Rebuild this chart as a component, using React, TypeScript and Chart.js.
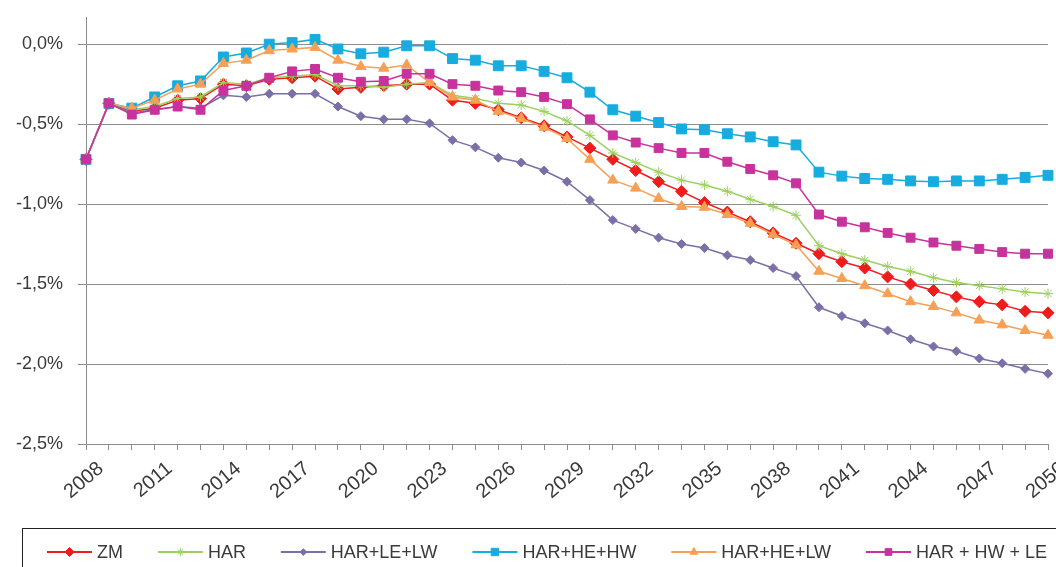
import React, { useEffect, useRef } from 'react';
import { Chart, registerables } from 'chart.js';
import { drawPoint } from 'chart.js/helpers';

Chart.register(...registerables);

const years = [
  '2008', '2009', '2010', '2011', '2012', '2013', '2014', '2015', '2016', '2017',
  '2018', '2019', '2020', '2021', '2022', '2023', '2024', '2025', '2026', '2027',
  '2028', '2029', '2030', '2031', '2032', '2033', '2034', '2035', '2036', '2037',
  '2038', '2039', '2040', '2041', '2042', '2043', '2044', '2045', '2046', '2047',
  '2048', '2049', '2050',
];

const zm = [
  -0.72, -0.37, -0.42, -0.40, -0.35, -0.34, -0.25, -0.26, -0.22, -0.21,
  -0.20, -0.28, -0.27, -0.26, -0.25, -0.25, -0.35, -0.37, -0.41, -0.46,
  -0.51, -0.58, -0.65, -0.72, -0.79, -0.86, -0.92, -0.99, -1.05, -1.11,
  -1.18, -1.245, -1.31, -1.36, -1.40, -1.455, -1.50, -1.54, -1.58, -1.61,
  -1.63, -1.67, -1.68,
];

const har = [
  -0.72, -0.37, -0.41, -0.39, -0.34, -0.33, -0.24, -0.25, -0.21, -0.20,
  -0.19, -0.26, -0.26, -0.27, -0.25, -0.24, -0.32, -0.34, -0.37, -0.38,
  -0.42, -0.48, -0.57, -0.68, -0.74, -0.80, -0.85, -0.88, -0.92, -0.97,
  -1.015, -1.07, -1.26, -1.31, -1.35, -1.39, -1.42, -1.46, -1.49, -1.51,
  -1.53, -1.55, -1.56,
];

const harLeLw = [
  -0.72, -0.37, -0.43, -0.41, -0.39, -0.40, -0.32, -0.33, -0.31, -0.31,
  -0.31, -0.39, -0.45, -0.47, -0.47, -0.495, -0.60, -0.645, -0.71, -0.74,
  -0.79, -0.86, -0.975, -1.10, -1.155, -1.21, -1.25, -1.275, -1.32, -1.35,
  -1.40, -1.45, -1.645, -1.70, -1.745, -1.79, -1.845, -1.89, -1.92, -1.965,
  -1.995, -2.03, -2.06,
];

const harHeHw = [
  -0.72, -0.37, -0.40, -0.33, -0.26, -0.23, -0.08, -0.055, 0.0, 0.01,
  0.03, -0.03, -0.06, -0.05, -0.01, -0.01, -0.09, -0.10, -0.135, -0.135,
  -0.17, -0.21, -0.30, -0.41, -0.45, -0.49, -0.53, -0.535, -0.56, -0.58,
  -0.61, -0.63, -0.80, -0.825, -0.84, -0.845, -0.855, -0.86, -0.855, -0.855,
  -0.845, -0.833, -0.82,
];

const harHeLw = [
  -0.72, -0.37, -0.40, -0.35, -0.28, -0.25, -0.12, -0.10, -0.04, -0.03,
  -0.02, -0.10, -0.14, -0.15, -0.13, -0.24, -0.33, -0.35, -0.42, -0.465,
  -0.52, -0.59, -0.72, -0.85, -0.90, -0.965, -1.015, -1.02, -1.065, -1.12,
  -1.19, -1.255, -1.42, -1.465, -1.51, -1.56, -1.61, -1.64, -1.68, -1.725,
  -1.755, -1.79, -1.82,
];

const harHwLe = [
  -0.72, -0.37, -0.44, -0.41, -0.39, -0.41, -0.29, -0.26, -0.21, -0.17,
  -0.155, -0.21, -0.235, -0.23, -0.185, -0.185, -0.25, -0.26, -0.29, -0.30,
  -0.33, -0.375, -0.47, -0.57, -0.615, -0.65, -0.68, -0.68, -0.735, -0.78,
  -0.82, -0.87, -1.065, -1.11, -1.145, -1.18, -1.21, -1.24, -1.26, -1.28,
  -1.30, -1.31, -1.31,
];

const seriesLabels = ['ZM', 'HAR', 'HAR+LE+LW', 'HAR+HE+HW', 'HAR+HE+LW', 'HAR + HW + LE'];

const FONT_FAMILY = '"Liberation Sans", Arial, sans-serif';
const TEXT_COLOR = '#3a3a3a';
const GRID_COLOR = '#8c8c8c';

type Style = { color: string; point: string; radius: number; width: number };
const styles: Style[] = [
  { color: '#ee1c1c', point: 'rectRot', radius: 6, width: 1.5 },
  { color: '#9bd15e', point: 'star', radius: 5, width: 1.5 },
  { color: '#7b6fa8', point: 'rectRot', radius: 4.5, width: 1.5 },
  { color: '#16acdf', point: 'rect', radius: 7, width: 1.5 },
  { color: '#f7a055', point: 'triangle', radius: 6, width: 1.5 },
  { color: '#c8329c', point: 'rect', radius: 6.3, width: 1.5 },
];

const seriesData = [zm, har, harLeLw, harHeHw, harHeLw, harHwLe];

const legendPlugin = {
  id: 'boxLegend',
  afterDraw(chart: any) {
    const ctx: CanvasRenderingContext2D = chart.ctx;
    ctx.save();
    ctx.strokeStyle = '#222';
    ctx.lineWidth = 1;
    ctx.strokeRect(22.5, 528.5, 1100, 100);
    ctx.font = `18px ${FONT_FAMILY}`;
    ctx.textBaseline = 'middle';
    ctx.textAlign = 'left';
    const lineLen = 45;
    const textGap = 5;
    const widths = seriesLabels.map((l) => ctx.measureText(l).width);
    const total = widths.reduce((a, b) => a + b, 0) + seriesLabels.length * (lineLen + textGap);
    const startX = 47;
    const endX = 1047;
    const gap = (endX - startX - total) / (seriesLabels.length - 1);
    const y = 552;
    let x = startX;
    seriesLabels.forEach((label, i) => {
      const s = styles[i];
      ctx.strokeStyle = s.color;
      ctx.lineWidth = 2;
      ctx.beginPath();
      ctx.moveTo(x, y);
      ctx.lineTo(x + lineLen, y);
      ctx.stroke();
      ctx.fillStyle = s.color;
      ctx.strokeStyle = s.color;
      ctx.lineWidth = 1;
      drawPoint(ctx, { pointStyle: s.point as any, rotation: 0, radius: s.radius * 0.75, borderWidth: 1 }, x + lineLen / 2, y);
      ctx.fillStyle = TEXT_COLOR;
      ctx.fillText(label, x + lineLen + textGap, y + 1);
      x += lineLen + textGap + widths[i] + gap;
    });
    ctx.restore();
  },
};

export default function App() {
  const ref = useRef<HTMLCanvasElement | null>(null);
  useEffect(() => {
    document.body.style.margin = '0';
    const canvas = ref.current;
    if (!canvas) return;
    const chart = new Chart(canvas, {
      type: 'line',
      data: {
        labels: years,
        datasets: seriesLabels.map((label, i) => ({
          label,
          data: seriesData[i],
          borderColor: styles[i].color,
          backgroundColor: styles[i].color,
          pointBackgroundColor: styles[i].color,
          pointBorderColor: styles[i].color,
          pointStyle: styles[i].point as any,
          pointRadius: styles[i].radius,
          pointBorderWidth: 1,
          borderWidth: styles[i].width,
          tension: 0,
          fill: false,
          order: seriesLabels.length - i,
        })),
      },
      options: {
        responsive: false,
        animation: false,
        devicePixelRatio: 1,
        layout: { padding: { top: 17, right: 3, left: 0, bottom: 0 } },
        plugins: {
          legend: { display: false },
          tooltip: { enabled: false },
        },
        scales: {
          x: {
            type: 'category',
            offset: false,
            grid: {
              drawOnChartArea: false,
              drawTicks: true,
              tickLength: 6,
              color: GRID_COLOR,
            },
            border: { display: true, color: GRID_COLOR, width: 1 },
            ticks: {
              autoSkip: false,
              maxRotation: 40,
              minRotation: 40,
              padding: 7,
              labelOffset: 15,
              color: TEXT_COLOR,
              font: { family: FONT_FAMILY, size: 20 },
              callback: (_v: any, idx: number) => (idx % 3 === 0 ? years[idx] : ''),
            },
            afterFit: (s: any) => {
              s.height = 123;
              s.paddingLeft = 0;
              s.paddingRight = 0;
              s.paddingTop = 0;
              s.paddingBottom = 0;
            },
          },
          y: {
            type: 'linear',
            min: -2.5,
            max: 0.17,
            grid: {
              color: GRID_COLOR,
              lineWidth: 1,
              tickLength: 8,
            },
            border: { display: true, color: GRID_COLOR, width: 1 },
            ticks: {
              stepSize: 0.5,
              padding: 15,
              color: TEXT_COLOR,
              font: { family: FONT_FAMILY, size: 18 },
              callback: (v: any) => Number(v).toFixed(1).replace('.', ',') + '%',
            },
            afterBuildTicks: (s: any) => {
              s.ticks = s.ticks.filter((t: any) => Math.abs(t.value / 0.5 - Math.round(t.value / 0.5)) < 1e-6);
            },
            afterFit: (s: any) => {
              s.width = 86;
              s.paddingLeft = 0;
              s.paddingRight = 0;
              s.paddingTop = 0;
              s.paddingBottom = 0;
            },
          },
        },
      },
      plugins: [legendPlugin],
    });
    return () => chart.destroy();
  }, []);
  return (
    <div style={{ width: 1056, height: 567, background: '#fff' }}>
      <canvas ref={ref} width={1056} height={567} style={{ display: 'block' }} />
    </div>
  );
}
